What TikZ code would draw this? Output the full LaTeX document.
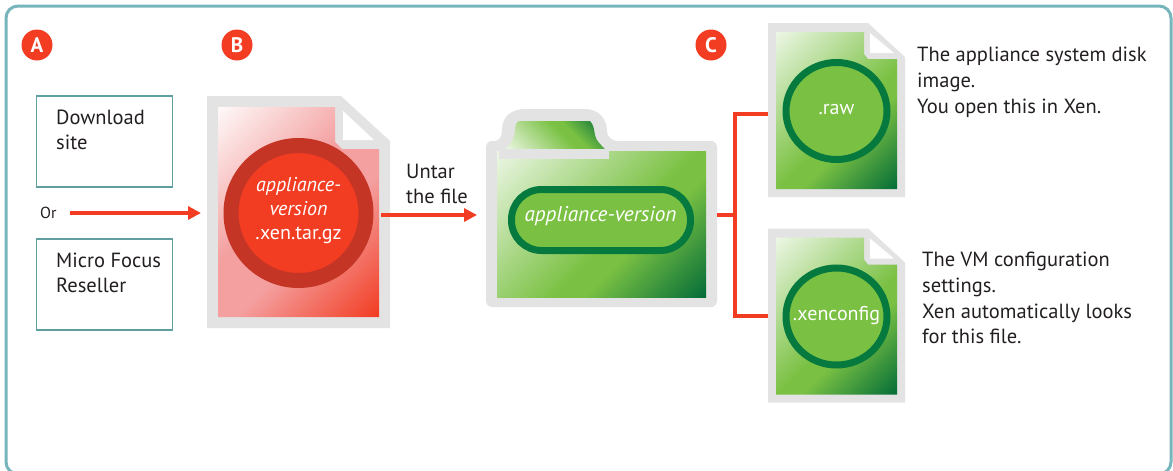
\documentclass[tikz,border=0pt]{standalone}
\usepackage{fontspec}
\setmainfont{PT Sans}
\usetikzlibrary{arrows.meta,shapes.geometric}

\definecolor{framecol}{HTML}{76B5BC}
\definecolor{boxcol}{HTML}{5F9F9F}
\definecolor{redcol}{HTML}{F23D23}
\definecolor{darkred}{HTML}{C43526}
\definecolor{pinkcol}{HTML}{F4A0A0}
\definecolor{greencol}{HTML}{7AC143}
\definecolor{darkgreen}{HTML}{067A3E}
\definecolor{graycol}{HTML}{E3E3E3}
\definecolor{textcol}{HTML}{231F20}

\pgfdeclarehorizontalshading{greenfade}{100bp}{color(0bp)=(white!85!greencol);color(15bp)=(white!85!greencol);
  color(55bp)=(greencol);color(61bp)=(greencol);color(85bp)=(darkgreen!90!black);color(100bp)=(darkgreen!90!black)}
\pgfdeclarehorizontalshading{redfade}{100bp}{color(0bp)=(white);color(15bp)=(pinkcol!8);
  color(44bp)=(pinkcol);color(58bp)=(pinkcol);color(85bp)=(redcol);color(100bp)=(redcol)}

\tikzset{
  label/.style={align=left,anchor=north west,inner sep=0pt,text=textcol,font=\fontsize{20.5}{25.7}\selectfont},
  sitelabel/.style={label,font=\fontsize{20.5}{24.5}\selectfont},
  sitebox/.style={draw=boxcol,line width=1.2pt,fill=white,minimum width=136pt,minimum height=91pt,inner sep=0pt},
  badge/.style={circle,fill=redcol,text=white,minimum size=31pt,inner sep=0pt,font=\fontsize{21}{21}\bfseries\selectfont},
  redline/.style={draw=redcol,line width=4pt},
  redarrow/.style={redline,-{Triangle[length=13pt,width=13pt]}},
  frame/.style={inner sep=0pt,fill=none},
  inside/.style={text=white,align=center,inner sep=0pt,font=\fontsize{20}{24}\selectfont}
}

\begin{document}
\begin{tikzpicture}[x=1pt,y=-1pt]
\useasboundingbox (0,0) rectangle (1173,471);

% outer panel
\draw[framecol,line width=3pt,rounded corners=12pt] (6,474) -- (6,6) -- (1171,6) -- (1171,474) -- cycle;

\node[badge] (a) at (37,45) {A};
\node[badge] (b) at (237,45) {B};
\node[badge] (c) at (711,45) {C};

% sources
\node[sitebox] (site) at (104.5,141.5) {};
\node[sitelabel] (sitetxt) at (56,110) {Download\\site};
\node[sitebox] (reseller) at (104.5,284.5) {};
\node[sitelabel] (resellertxt) at (56,253) {Micro Focus\\Reseller};
\node[anchor=west,inner sep=0pt,text=textcol,font=\fontsize{16}{16}\selectfont] (or) at (40,213) {Or};
\coordinate (orend) at (70,213);

% red file
\node[frame,minimum width=183pt,minimum height=232pt] (tarfile) at (298.5,212) {};
\fill[graycol] (207,96) -- (341,96) -- (390,141) -- (390,328) -- (207,328) -- cycle;
\shade[shading=redfade,shading angle=-45] (218,107) -- (335,107) -- (335,142) -- (342,149) -- (379,149) -- (379,317) -- (218,317) -- cycle;
\fill[white] (343,111) -- (374,140) -- (343,140) -- cycle;
\node[circle,draw=darkred,fill=redcol,line width=15pt,minimum size=135pt,inner sep=0pt] (tarname) at (298.5,213) {};
\node[inside] (tartxt) at (298.5,210.5) {\textit{appliance-}\\\textit{version}\\.xen.tar.gz};

% folder
\node[frame,minimum width=231pt,minimum height=166pt] (folder) at (601.5,224) {};
\fill[graycol,rounded corners=6pt] (486,141) -- (717,141) -- (717,307) -- (486,307) -- cycle;
\fill[graycol] (495,141) .. controls (500,141) and (502,135) .. (502,130) .. controls (502,116) and (512,109) .. (525,109) -- (585,109) .. controls (598,109) and (607,118) .. (607,131) .. controls (607,137) and (612,141) .. (618,141) -- cycle;
\shade[shading=greenfade,shading angle=45] (505,149) .. controls (511,145) and (515,137) .. (515,130) .. controls (515,125) and (517,121) .. (520,121) -- (590,121) .. controls (594,125) and (594,130) .. (595,135) .. controls (596,141) and (601,145) .. (605,149) -- cycle;
\shade[shading=greenfade,shading angle=-45] (497,151) rectangle (706,297);
\fill[graycol] (499,149) rectangle (609,159);
\node[draw=darkgreen,fill=greencol,line width=7pt,rounded corners=30pt,minimum width=179pt,minimum height=61pt,inner sep=0pt] (foldername) at (601,220) {};
\node[inside,font=\fontsize{21.3}{24}\itshape\selectfont] (foldertxt) at (600.5,216.5) {appliance-version};

% green files
\foreach \name/\ext/\yy in {raw/.raw/0,xen/.xenconfig/205.5}{
  \begin{scope}[yshift=-\yy pt]
  \node[frame,minimum width=137pt,minimum height=174pt] (\name file) at (836.5,110) {};
  \fill[graycol] (768,23) -- (868,23) -- (905,57) -- (905,197) -- (768,197) -- cycle;
  \shade[shading=greenfade,shading angle=-45] (776,32) -- (864,32) -- (864,54) -- (868,59) -- (897,59) -- (897,189) -- (776,189) -- cycle;
  \fill[white] (870,33) -- (894,53) -- (870,53) -- cycle;
  \node[ellipse,draw=darkgreen,fill=greencol,line width=7pt,minimum width=101pt,minimum height=97pt,inner sep=0pt] (\name name) at (836.5,111) {};
  \node[inside] (\name txt) at (836.5,110) {\ext};
  \end{scope}
}

\node[label] (rawtxt) at (917,47) {The appliance system disk\\image.\\You open this in Xen.};
\node[label] (xentxt) at (922,252) {The VM configuration\\settings.\\Xen automatically looks\\for this file.};

% connectors
\coordinate (junction) at (735,215);
\coordinate (rawin) at (768,114);
\coordinate (xenin) at (768,316);
\coordinate (tarout) at (381,215);
\draw[redarrow] (orend) -- (201,213);
\draw[redarrow] (tarout) -- (477,215);
\draw[redline] (folder.east |- junction) -- (junction);
\draw[redline] (rawin) -| (junction);
\draw[redline] (xenin) -| (junction);

\node[sitelabel] (untar) at (406,164) {Untar\\the file};
\end{tikzpicture}
\end{document}
